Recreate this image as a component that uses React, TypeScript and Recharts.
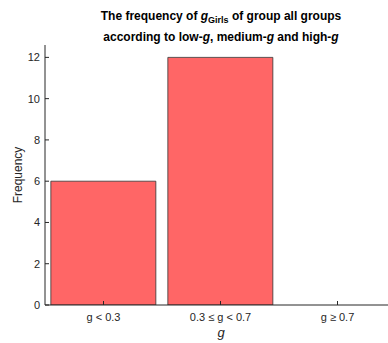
import { BarChart, Bar, XAxis, YAxis } from 'recharts';

const categories = ['g < 0.3', '0.3 ≤ g < 0.7', 'g ≥ 0.7'];
const frequencies = [6, 12, 0];
const yTicks = [0, 2, 4, 6, 8, 10, 12];

const data = categories.map((name, i) => ({ name, value: frequencies[i] }));

const axisColor = '#262626';
const tickStyle = { fill: axisColor, fontSize: 11 };

export default function App() {
  return (
    <div
      style={{
        position: 'absolute',
        left: 0,
        top: 0,
        width: 388,
        height: 343,
        overflow: 'hidden',
        background: '#fff',
        fontFamily: '"Liberation Sans", Arial, sans-serif',
        color: '#000',
      }}
    >
      <div style={{ position: 'absolute', left: 0, width: 442, top: 6, textAlign: 'center', fontWeight: 'bold', fontSize: 12, lineHeight: '21px' }}>
        The frequency of <i>g</i>
        <sub style={{ fontSize: 9, verticalAlign: -3, lineHeight: 0 }}>Girls</sub> of group all groups
        <br />
        according to low-<i>g</i>, medium-<i>g</i> and high-<i>g</i>
      </div>
      <div
        style={{
          position: 'absolute',
          left: 18,
          top: 175,
          transform: 'translate(-50%, -50%) rotate(-90deg)',
          fontSize: 12,
          color: axisColor,
          whiteSpace: 'nowrap',
        }}
      >
        Frequency
      </div>
      <div style={{ position: 'absolute', left: 221, top: 332, transform: 'translate(-50%, -50%)', fontSize: 13, fontStyle: 'italic', color: axisColor }}>
        g
      </div>
      <BarChart width={400} height={343} data={data} margin={{ top: 45, right: 4, bottom: 0, left: 0 }} barCategoryGap="5%">
        <XAxis
          xAxisId="top"
          orientation="top"
          dataKey="name"
          height={0}
          tickSize={-4}
          tickFormatter={() => ''}
          stroke={axisColor}
        />
        <XAxis
          dataKey="name"
          height={38}
          tickSize={-4}
          tickMargin={12}
          tick={tickStyle}
          stroke={axisColor}
          interval={0}
        />
        <YAxis
          width={45}
          domain={[0, 12.6]}
          ticks={yTicks}
          allowDataOverflow
          tickSize={-4}
          tickMargin={9}
          tick={tickStyle}
          stroke={axisColor}
        />
        <Bar dataKey="value" fill="#FF6666" stroke="#333333" strokeWidth={0.8} isAnimationActive={false} />
      </BarChart>
    </div>
  );
}
